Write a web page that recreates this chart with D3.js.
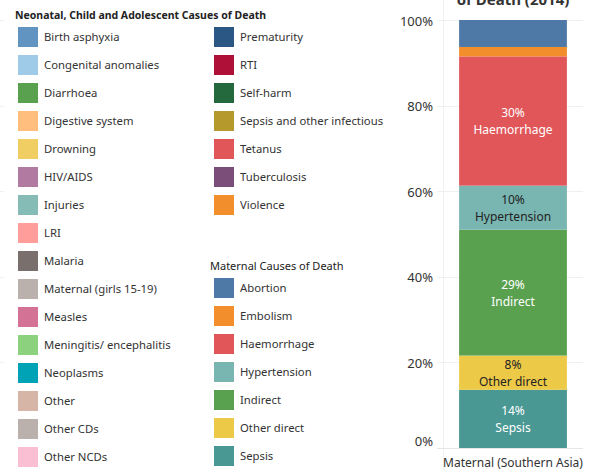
<!DOCTYPE html>
<html>
  <head>
    <meta charset="utf-8" />
    <script src="https://cdnjs.cloudflare.com/ajax/libs/d3/7.8.5/d3.min.js"></script>
    <style>
      body {
        margin: 0;
        background: #fff;
        font-family: "Noto Sans", "Open Sans", sans-serif;
      }
      .grid line {
        stroke: #f0f0f0;
        stroke-width: 1px;
      }
      .tick-label {
        font-size: 13px;
        fill: #333;
      }
      .legend-text {
        font-size: 11.3px;
        fill: #333;
      }
    </style>
  </head>
  <body>
    <svg id="chart" width="589" height="470"></svg>
    <script>
      const width = 589;
      const height = 470;
      const svg = d3.select("#chart");

      // Legend data
      const neonatalCauses = [
        "Birth asphyxia", "Congenital anomalies", "Diarrhoea", "Digestive system",
        "Drowning", "HIV/AIDS", "Injuries", "LRI", "Malaria",
        "Maternal (girls 15-19)", "Measles", "Meningitis/ encephalitis",
        "Neoplasms", "Other", "Other CDs", "Other NCDs", "Prematurity", "RTI",
        "Self-harm", "Sepsis and other infectious conditions", "Tetanus",
        "Tuberculosis", "Violence",
      ];
      const neonatalColors = [
        "#6194c1", "#a0cbe8", "#59a14f", "#ffbe7d", "#f1ce63", "#b07aa1",
        "#86bcb6", "#ff9d9a", "#79706e", "#bab0ac", "#d37295", "#8cd17d",
        "#00a2b5", "#d7b5a6", "#bab0ac", "#fabfd2", "#2a5783", "#ae1038",
        "#24693d", "#b6992d", "#e15759", "#7b4e7a", "#f28e2b",
      ];

      // Maternal causes (stack order, bottom to top)
      const maternalCauses = [
        "Sepsis", "Other direct", "Indirect", "Hypertension",
        "Haemorrhage", "Embolism", "Abortion",
      ];
      const maternalShares = [13.6, 8.0, 29.4, 10.3, 30.2, 2.2, 6.3];
      const maternalColors = [
        "#499894", "#edc948", "#59a14f", "#79b6b1",
        "#e15759", "#f28e2b", "#4e79a7",
      ];
      const labelDark = ["Other direct", "Hypertension"];
      const categories = ["Maternal (Southern Asia)"];
      const yTicks = [0, 20, 40, 60, 80, 100];

      // Scales
      const y = d3.scaleLinear().domain([0, 100]).range([448, 20]);
      const x = d3.scaleBand().domain(categories).range([443, 583]).padding(0.13);

      // Faint gridline stubs from a neighbouring chart on the left
      svg
        .append("g")
        .attr("class", "grid")
        .selectAll("line")
        .data(yTicks.slice(1))
        .enter()
        .append("line")
        .attr("x1", 0)
        .attr("x2", 4)
        .attr("y1", (d) => Math.round(y(d)) + 0.5)
        .attr("y2", (d) => Math.round(y(d)) + 0.5);

      // Chart gridlines
      const grid = svg.append("g").attr("class", "grid");
      grid
        .selectAll("line.h")
        .data(yTicks.slice(1))
        .enter()
        .append("line")
        .attr("class", "h")
        .attr("x1", 437)
        .attr("x2", 583)
        .attr("y1", (d) => Math.round(y(d)) + 0.5)
        .attr("y2", (d) => Math.round(y(d)) + 0.5);

      grid
        .append("line")
        .attr("x1", 443.5)
        .attr("x2", 443.5)
        .attr("y1", 0)
        .attr("y2", height);

      svg
        .append("line")
        .attr("x1", 437)
        .attr("x2", 583)
        .attr("y1", Math.round(y(0)) + 0.5)
        .attr("y2", Math.round(y(0)) + 0.5)
        .attr("stroke", "#e6e6e6");

      // Y axis labels (the 0% label is nudged up, as in the original)
      svg
        .selectAll("text.ytick")
        .data(yTicks)
        .enter()
        .append("text")
        .attr("class", "tick-label")
        .attr("x", 433)
        .attr("y", (d) => y(d) + (d === 0 ? -7 : 1))
        .attr("dy", "0.35em")
        .attr("text-anchor", "end")
        .text((d) => d + "%");

      // Stacked bar
      const row = { cat: categories[0] };
      maternalCauses.forEach((c, i) => (row[c] = maternalShares[i]));
      const series = d3.stack().keys(maternalCauses)([row]);
      const color = d3.scaleOrdinal().domain(maternalCauses).range(maternalColors);

      const seg = svg
        .selectAll("g.seg")
        .data(series)
        .enter()
        .append("g")
        .attr("class", "seg");

      seg
        .append("rect")
        .attr("x", x(categories[0]))
        .attr("width", x.bandwidth())
        .attr("y", (d) => y(d[0][1]))
        .attr("height", (d) => y(d[0][0]) - y(d[0][1]))
        .attr("fill", (d) => color(d.key));

      const labelled = seg.filter((d) => d[0][1] - d[0][0] >= 7.5);
      const cx = x(categories[0]) + x.bandwidth() / 2;
      labelled
        .append("text")
        .attr("x", cx)
        .attr("y", (d) => (y(d[0][0]) + y(d[0][1])) / 2 - 8)
        .attr("dy", "0.35em")
        .attr("text-anchor", "middle")
        .attr("font-size", 12)
        .attr("fill", (d) => (labelDark.includes(d.key) ? "#222" : "#fff"))
        .text((d) => Math.round(d[0][1] - d[0][0]) + "%");
      labelled
        .append("text")
        .attr("x", cx)
        .attr("y", (d) => (y(d[0][0]) + y(d[0][1])) / 2 + 9)
        .attr("dy", "0.35em")
        .attr("text-anchor", "middle")
        .attr("font-size", 12)
        .attr("fill", (d) => (labelDark.includes(d.key) ? "#222" : "#fff"))
        .text((d) => d.key);

      // X axis label
      svg
        .append("text")
        .attr("x", cx)
        .attr("y", 463)
        .attr("dy", "0.35em")
        .attr("text-anchor", "middle")
        .attr("font-size", 12)
        .attr("fill", "#333")
        .text(categories[0]);

      // Title (cut off at top)
      svg
        .append("text")
        .attr("x", cx)
        .attr("y", 5)
        .attr("text-anchor", "middle")
        .attr("font-size", 15)
        .attr("font-weight", "bold")
        .attr("fill", "#333")
        .text("of Death (2014)");

      // Legends
      const legend = svg.append("g");
      const legendRight = 386;

      // trim a legend label so it stops at the legend's right edge
      function fitText(sel, left) {
        sel.each(function () {
          const t = d3.select(this);
          let s = t.text();
          while (s.length > 1 && left + this.getComputedTextLength() > legendRight) {
            s = s.slice(0, -1);
            t.text(s);
          }
        });
      }

      legend
        .append("text")
        .attr("x", 15)
        .attr("y", 15)
        .attr("dy", "0.35em")
        .attr("font-size", 10.5)
        .attr("font-weight", "bold")
        .attr("fill", "#222")
        .text("Neonatal, Child and Adolescent Casues of Death");

      const rowStep = 28;
      const neoItems = legend
        .selectAll("g.neo")
        .data(neonatalCauses)
        .enter()
        .append("g")
        .attr("class", "neo")
        .attr("transform", (d, i) =>
          i < 16
            ? `translate(18,${27 + i * rowStep})`
            : `translate(214,${27 + (i - 16) * rowStep})`
        );
      neoItems
        .append("rect")
        .attr("width", 20)
        .attr("height", 20)
        .attr("fill", (d, i) => neonatalColors[i]);
      neoItems
        .append("text")
        .attr("class", "legend-text")
        .attr("x", 26)
        .attr("y", 10)
        .attr("dy", "0.35em")
        .text((d) => d);
      neoItems
        .filter((d, i) => i >= 16)
        .select("text")
        .call(fitText, 214 + 26);

      legend
        .append("text")
        .attr("x", 210)
        .attr("y", 266)
        .attr("dy", "0.35em")
        .attr("font-size", 11)
        .attr("fill", "#222")
        .text("Maternal Causes of Death");

      const matLegend = maternalCauses.slice().sort(d3.ascending);
      const matItems = legend
        .selectAll("g.mat")
        .data(matLegend)
        .enter()
        .append("g")
        .attr("class", "mat")
        .attr("transform", (d, i) => `translate(214,${278 + i * rowStep})`);
      matItems
        .append("rect")
        .attr("width", 20)
        .attr("height", 20)
        .attr("fill", (d) => color(d));
      matItems
        .append("text")
        .attr("class", "legend-text")
        .attr("x", 26)
        .attr("y", 10)
        .attr("dy", "0.35em")
        .text((d) => d);
    </script>
  </body>
</html>
